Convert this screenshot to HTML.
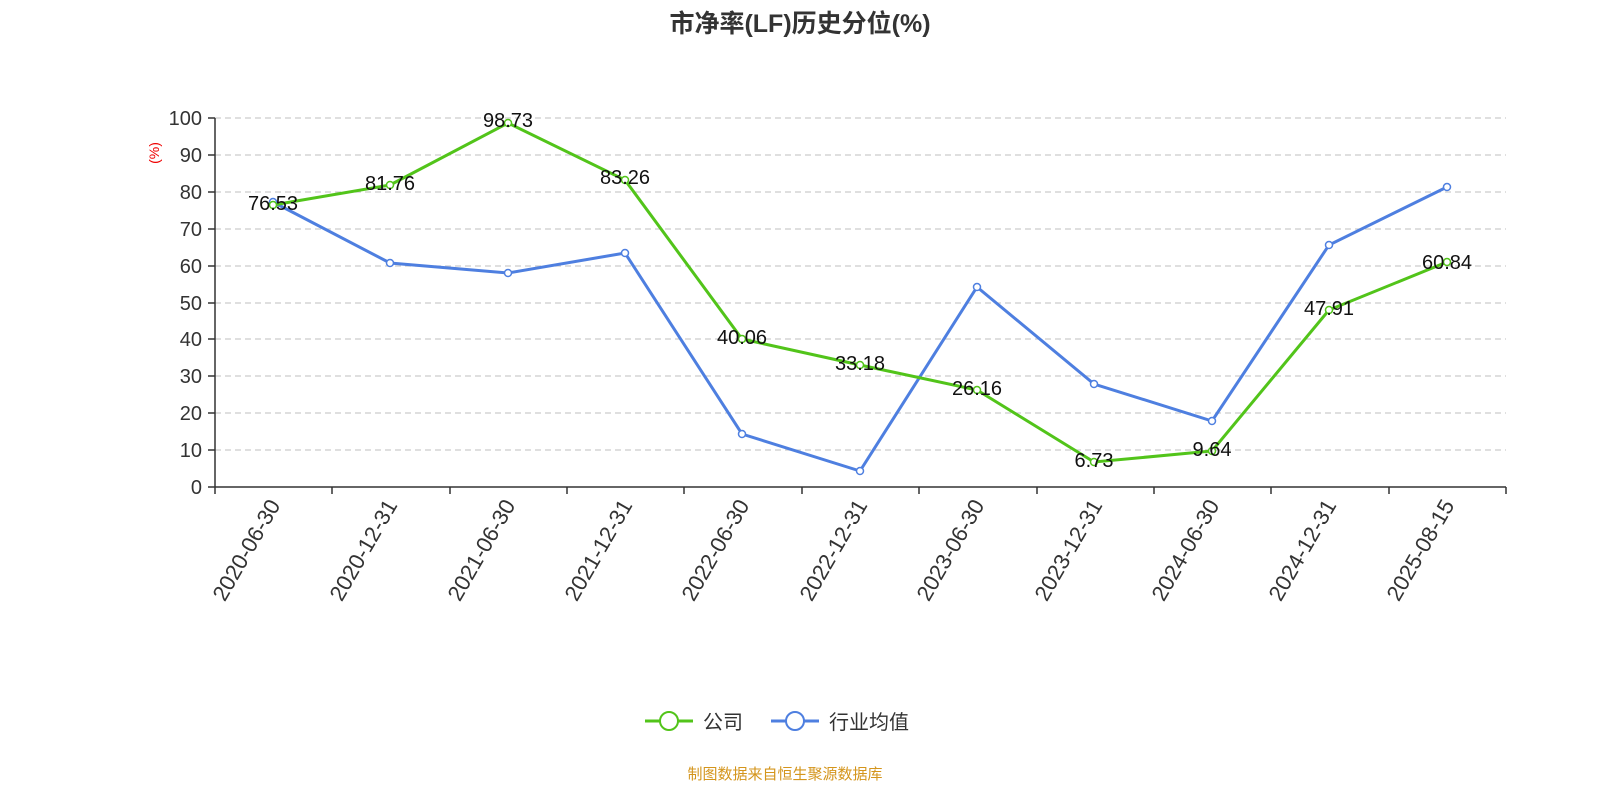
<!DOCTYPE html>
<html><head><meta charset="utf-8"><style>
html,body{margin:0;padding:0;background:#fff;}
svg{display:block;font-family:"Liberation Sans","Noto Sans CJK SC",sans-serif;}
</style></head><body>
<svg width="1600" height="800" viewBox="0 0 1600 800">
<text x="800" y="32" text-anchor="middle" font-size="25" font-weight="bold" fill="#333">市净率(LF)历史分位(%)</text>
<g stroke="#ccc" stroke-dasharray="6,4" stroke-width="1.2">
<line x1="215" x2="1506" y1="118" y2="118"/><line x1="215" x2="1506" y1="155" y2="155"/>
<line x1="215" x2="1506" y1="192" y2="192"/><line x1="215" x2="1506" y1="229" y2="229"/>
<line x1="215" x2="1506" y1="266" y2="266"/><line x1="215" x2="1506" y1="303" y2="303"/>
<line x1="215" x2="1506" y1="339" y2="339"/><line x1="215" x2="1506" y1="376" y2="376"/>
<line x1="215" x2="1506" y1="413" y2="413"/><line x1="215" x2="1506" y1="450" y2="450"/>
</g>
<g stroke="#333" stroke-width="1.5">
<line x1="215" x2="215" y1="118" y2="487"/><line x1="215" x2="1506" y1="487" y2="487"/>
<line x1="208" x2="215" y1="118" y2="118"/><line x1="208" x2="215" y1="155" y2="155"/>
<line x1="208" x2="215" y1="192" y2="192"/><line x1="208" x2="215" y1="229" y2="229"/>
<line x1="208" x2="215" y1="266" y2="266"/><line x1="208" x2="215" y1="303" y2="303"/>
<line x1="208" x2="215" y1="339" y2="339"/><line x1="208" x2="215" y1="376" y2="376"/>
<line x1="208" x2="215" y1="413" y2="413"/><line x1="208" x2="215" y1="450" y2="450"/>
<line x1="208" x2="215" y1="487" y2="487"/>
<line x1="215" x2="215" y1="487" y2="494"/><line x1="332" x2="332" y1="487" y2="494"/>
<line x1="450" x2="450" y1="487" y2="494"/><line x1="567" x2="567" y1="487" y2="494"/>
<line x1="684" x2="684" y1="487" y2="494"/><line x1="802" x2="802" y1="487" y2="494"/>
<line x1="919" x2="919" y1="487" y2="494"/><line x1="1037" x2="1037" y1="487" y2="494"/>
<line x1="1154" x2="1154" y1="487" y2="494"/><line x1="1271" x2="1271" y1="487" y2="494"/>
<line x1="1389" x2="1389" y1="487" y2="494"/><line x1="1506" x2="1506" y1="487" y2="494"/>
</g>
<g font-size="20" fill="#333" text-anchor="end">
<text x="202" y="125">100</text><text x="202" y="162">90</text><text x="202" y="199">80</text>
<text x="202" y="236">70</text><text x="202" y="273">60</text><text x="202" y="310">50</text>
<text x="202" y="346">40</text><text x="202" y="383">30</text><text x="202" y="420">20</text>
<text x="202" y="457">10</text><text x="202" y="494">0</text>
</g>
<text transform="translate(159,153) rotate(-90)" text-anchor="middle" font-size="14" fill="#e00">(%)</text>
<g font-size="22" fill="#333" text-anchor="end">
<text transform="translate(281,505) rotate(-60)">2020-06-30</text>
<text transform="translate(398,505) rotate(-60)">2020-12-31</text>
<text transform="translate(516,505) rotate(-60)">2021-06-30</text>
<text transform="translate(633,505) rotate(-60)">2021-12-31</text>
<text transform="translate(750,505) rotate(-60)">2022-06-30</text>
<text transform="translate(868,505) rotate(-60)">2022-12-31</text>
<text transform="translate(985,505) rotate(-60)">2023-06-30</text>
<text transform="translate(1103,505) rotate(-60)">2023-12-31</text>
<text transform="translate(1220,505) rotate(-60)">2024-06-30</text>
<text transform="translate(1337,505) rotate(-60)">2024-12-31</text>
<text transform="translate(1455,505) rotate(-60)">2025-08-15</text>
</g>
<polyline fill="none" stroke="#4e7fe0" stroke-width="3" points="273,202 390,263 508,273 625,253 742,434 860,471 977,287 1094,384 1212,421 1329,245 1447,187"/>
<polyline fill="none" stroke="#52c41a" stroke-width="3" points="273,205 390,185 508,123 625,180 742,339 860,365 977,390 1094,462 1212,451 1329,310 1447,262"/>
<g fill="#fff" stroke="#4e7fe0" stroke-width="1.5">
<circle cx="273" cy="202" r="3.5"/><circle cx="390" cy="263" r="3.5"/><circle cx="508" cy="273" r="3.5"/><circle cx="625" cy="253" r="3.5"/><circle cx="742" cy="434" r="3.5"/><circle cx="860" cy="471" r="3.5"/><circle cx="977" cy="287" r="3.5"/><circle cx="1094" cy="384" r="3.5"/><circle cx="1212" cy="421" r="3.5"/><circle cx="1329" cy="245" r="3.5"/><circle cx="1447" cy="187" r="3.5"/>
</g>
<g fill="#fff" stroke="#52c41a" stroke-width="1.5">
<circle cx="273" cy="205" r="3.5"/><circle cx="390" cy="185" r="3.5"/><circle cx="508" cy="123" r="3.5"/><circle cx="625" cy="180" r="3.5"/><circle cx="742" cy="339" r="3.5"/><circle cx="860" cy="365" r="3.5"/><circle cx="977" cy="390" r="3.5"/><circle cx="1094" cy="462" r="3.5"/><circle cx="1212" cy="451" r="3.5"/><circle cx="1329" cy="310" r="3.5"/><circle cx="1447" cy="262" r="3.5"/>
</g>
<g font-size="20" fill="#111" text-anchor="middle">
<text x="273" y="210">76.53</text><text x="390" y="190">81.76</text><text x="508" y="127">98.73</text>
<text x="625" y="184">83.26</text><text x="742" y="344">40.06</text><text x="860" y="370">33.18</text>
<text x="977" y="395">26.16</text><text x="1094" y="467">6.73</text><text x="1212" y="456">9.64</text>
<text x="1329" y="315">47.91</text><text x="1447" y="269">60.84</text>
</g>
<line x1="645" x2="693" y1="721" y2="721" stroke="#52c41a" stroke-width="3"/>
<circle cx="669" cy="721" r="9" fill="#fff" stroke="#52c41a" stroke-width="2"/>
<text x="703" y="729" font-size="20" fill="#333">公司</text>
<line x1="771" x2="819" y1="721" y2="721" stroke="#4e7fe0" stroke-width="3"/>
<circle cx="795" cy="721" r="9" fill="#fff" stroke="#4e7fe0" stroke-width="2"/>
<text x="829" y="729" font-size="20" fill="#333">行业均值</text>
<text x="785" y="779" text-anchor="middle" font-size="15" fill="#d4951c">制图数据来自恒生聚源数据库</text>
</svg>
</body></html>
